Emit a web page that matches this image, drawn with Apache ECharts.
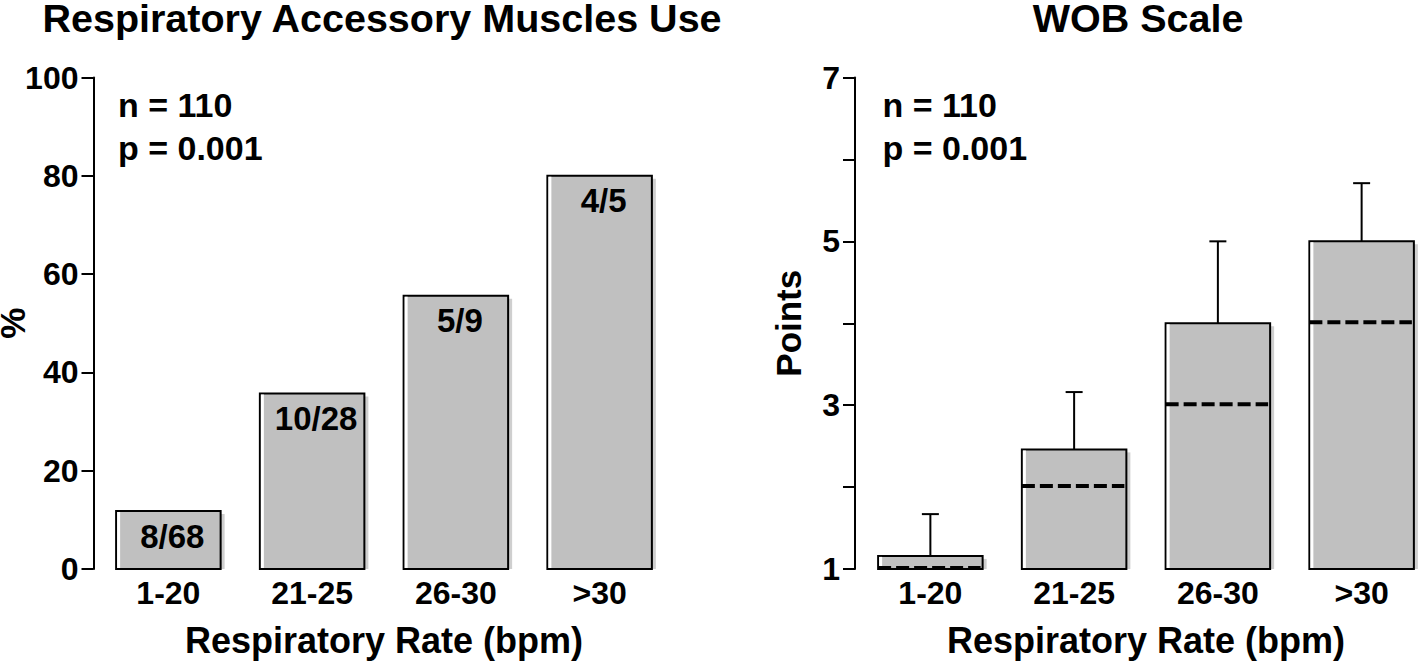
<!DOCTYPE html>
<html><head><meta charset="utf-8">
<script src="https://cdn.jsdelivr.net/npm/echarts@6/dist/echarts.min.js"></script>
<style>html,body{margin:0;padding:0;background:#fff}#c{width:1418px;height:661px}</style>
</head><body><div id="c"></div>
<script>
// ---- data ----
const categories = ['1-20', '21-25', '26-30', '>30'];
const accessoryPercent = [11.8, 35.7, 55.6, 80];
const accessoryCounts = ['8/68', '10/28', '5/9', '4/5'];
const wobBoxTop = [1.16, 2.46, 4, 5];
const wobMedian = [1, 2, 3, 4];
const wobWhisker = [1.67, 3.16, 5, 5.71];
const wobLabeledTicks = [1, 3, 5, 7];
const titles = ['Respiratory Accessory Muscles Use', 'WOB Scale'];
const statLines = ['n = 110', 'p = 0.001'];

const FONT = '"Liberation Sans", Arial, sans-serif';
const BAR_RATIO = 0.727;

function boxParts(cx, yTop, yBase, bw) {
  const x0 = cx - bw / 2;
  return [
    { type: 'rect', shape: { x: x0 + bw, y: yTop + 3, width: 4, height: yBase - yTop - 3 }, style: { fill: '#cfcfcf' } },
    { type: 'rect', shape: { x: x0, y: yTop, width: bw, height: yBase - yTop }, style: { fill: '#c0c0c0', stroke: '#000', lineWidth: 2 } },
    { type: 'rect', shape: { x: x0 + 1, y: yTop + 1, width: 3, height: Math.max(0, yBase - yTop - 2) }, style: { fill: '#fff' } }
  ];
}

const chart = echarts.init(document.getElementById('c'), null, { renderer: 'svg' });

const axisText = { color: '#000', fontFamily: FONT, fontWeight: 'bold' };

const option = {
  animation: false,
  backgroundColor: '#fff',
  grid: [
    { left: 96.5, top: 77.5, width: 575, height: 491.5, containLabel: false, outerBoundsMode: 'none' },
    { left: 858.5, top: 77.5, width: 575, height: 491.5, containLabel: false, outerBoundsMode: 'none' }
  ],
  xAxis: [0, 1].map(i => ({
    type: 'category', gridIndex: i, data: categories,
    axisLine: { show: false }, axisTick: { show: false }, splitLine: { show: false },
    axisLabel: Object.assign({ fontSize: 32, margin: 8 }, axisText),
    name: 'Respiratory Rate (bpm)', nameLocation: 'middle', nameGap: 53, nameMoveOverlap: false,
    nameTextStyle: Object.assign({ fontSize: 36 }, axisText)
  })),
  yAxis: [
    {
      type: 'value', gridIndex: 0, min: 0, max: 100, interval: 20, offset: 3,
      axisLine: { show: true, lineStyle: { color: '#000', width: 2 } },
      axisTick: { show: true, length: 12, lineStyle: { color: '#000', width: 2 } },
      splitLine: { show: false },
      axisLabel: Object.assign({ fontSize: 32, margin: 15 }, axisText),
      name: '%', nameLocation: 'middle', nameGap: 64, nameMoveOverlap: false,
      nameTextStyle: Object.assign({ fontSize: 35 }, axisText)
    },
    {
      type: 'value', gridIndex: 1, min: 1, max: 7, interval: 1, offset: 3.5,
      axisLine: { show: true, lineStyle: { color: '#000', width: 2 } },
      axisTick: { show: true, length: 12, lineStyle: { color: '#000', width: 2 } },
      splitLine: { show: false },
      axisLabel: Object.assign({ fontSize: 32, margin: 15,
        formatter: v => wobLabeledTicks.includes(v) ? String(v) : '' }, axisText),
      name: 'Points', nameLocation: 'middle', nameGap: 49, nameMoveOverlap: false,
      nameTextStyle: Object.assign({ fontSize: 35 }, axisText)
    }
  ],
  series: [
    {
      type: 'custom', xAxisIndex: 0, yAxisIndex: 0,
      data: categories.map((c, i) => [i, accessoryPercent[i]]),
      renderItem: function (params, api) {
        const i = api.value(0);
        const top = api.coord([i, api.value(1)]);
        const base = api.coord([i, 0]);
        const bw = api.size([1, 0])[0] * BAR_RATIO;
        const kids = boxParts(top[0], top[1], base[1], bw);
        kids.push({
          type: 'text',
          style: { text: accessoryCounts[params.dataIndex], x: top[0] + 4, y: top[1] + 25,
            align: 'center', verticalAlign: 'middle', fill: '#000',
            font: 'bold 33px ' + FONT }
        });
        return { type: 'group', children: kids };
      }
    },
    {
      type: 'custom', xAxisIndex: 1, yAxisIndex: 1,
      data: categories.map((c, i) => [i, wobBoxTop[i], wobMedian[i], wobWhisker[i]]),
      renderItem: function (params, api) {
        const i = api.value(0);
        const top = api.coord([i, api.value(1)]);
        const base = api.coord([i, 1]);
        const med = api.coord([i, api.value(2)]);
        const wh = api.coord([i, api.value(3)]);
        const bw = api.size([1, 0])[0] * BAR_RATIO;
        const cx = top[0];
        const kids = [
          { type: 'line', shape: { x1: cx, y1: top[1], x2: cx, y2: wh[1] }, style: { stroke: '#000', lineWidth: 2 } },
          { type: 'line', shape: { x1: cx - 8.5, y1: wh[1], x2: cx + 8.5, y2: wh[1] }, style: { stroke: '#000', lineWidth: 2 } }
        ].concat(boxParts(cx, top[1], base[1], bw));
        kids.push({
          type: 'line',
          shape: { x1: cx - bw / 2, y1: med[1] - 1, x2: cx + bw / 2 - 2, y2: med[1] - 1 },
          style: { stroke: '#000', lineWidth: 4, lineDash: [13, 5] }
        });
        return { type: 'group', children: kids };
      }
    }
  ],
  graphic: [
    { type: 'text', x: 382, y: 18, style: { text: titles[0], align: 'center', verticalAlign: 'middle', fill: '#000', font: 'bold 39.5px ' + FONT } },
    { type: 'text', x: 1138, y: 18, style: { text: titles[1], align: 'center', verticalAlign: 'middle', fill: '#000', font: 'bold 39.5px ' + FONT } },
    { type: 'text', x: 118, y: 105, style: { text: statLines[0], align: 'left', verticalAlign: 'middle', fill: '#000', font: 'bold 34px ' + FONT } },
    { type: 'text', x: 118, y: 148, style: { text: statLines[1], align: 'left', verticalAlign: 'middle', fill: '#000', font: 'bold 34px ' + FONT } },
    { type: 'text', x: 882.5, y: 105, style: { text: statLines[0], align: 'left', verticalAlign: 'middle', fill: '#000', font: 'bold 34px ' + FONT } },
    { type: 'text', x: 882.5, y: 148, style: { text: statLines[1], align: 'left', verticalAlign: 'middle', fill: '#000', font: 'bold 34px ' + FONT } }
  ]
};
chart.setOption(option);
</script>
</body></html>
